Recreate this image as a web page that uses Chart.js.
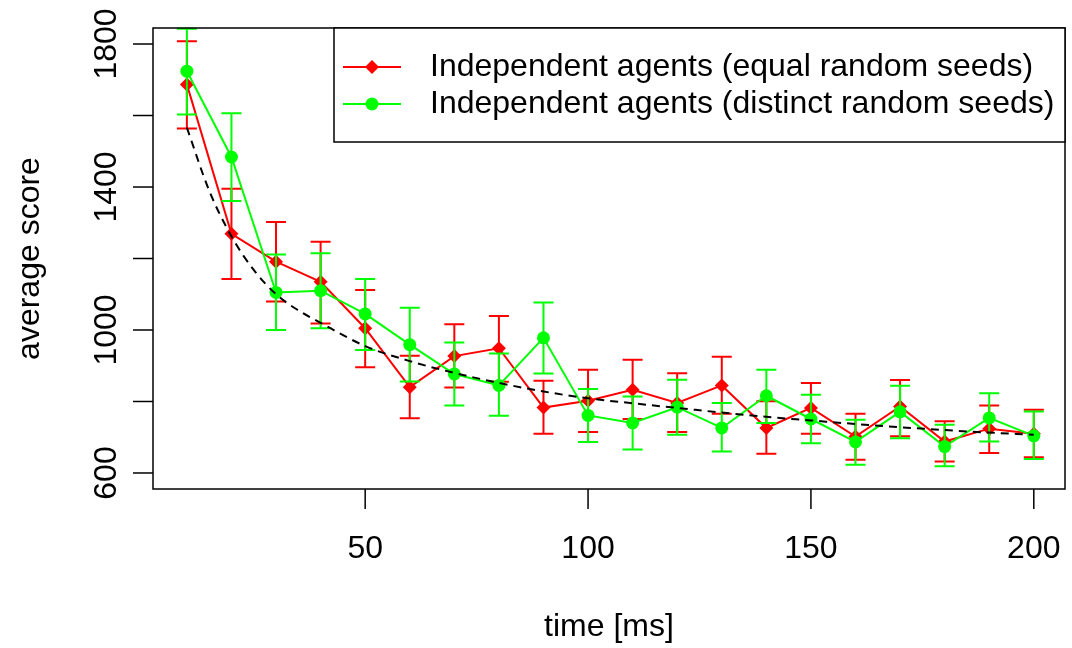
<!DOCTYPE html>
<html lang="en">
<head>
<meta charset="UTF-8">
<title>Average score over time</title>
<script src="https://cdn.jsdelivr.net/npm/chart.js@4.4.0/dist/chart.umd.min.js"></script>
<style>
    html, body { margin: 0; padding: 0; background: #fff; }
    .wrap { width: 1072px; height: 648px; }
</style>
</head>
<body>
<div class="wrap"><canvas id="chart" width="1072" height="648"></canvas></div>
<script>
// time points (ms)
var times = [10, 20, 30, 40, 50, 60, 70, 80, 90, 100, 110, 120, 130, 140, 150, 160, 170, 180, 190, 200];

// equal random seeds (red)
var equalMean = [1687, 1269, 1191, 1135, 1005, 840, 927, 949, 783, 802, 833, 796, 845, 726, 782, 702, 786, 688, 724, 710];
var equalHigh = [1808, 1395, 1302, 1247, 1112, 928, 1016, 1039, 858, 889, 917, 879, 925, 801, 852, 766, 860, 745, 789, 777];
var equalLow  = [1564, 1143, 1080, 1018, 896, 753, 839, 855, 710, 715, 751, 715, 766, 654, 710, 637, 703, 632, 656, 644];

// distinct random seeds (green)
var distinctMean = [1724, 1484, 1105, 1110, 1045, 959, 877, 845, 978, 761, 740, 784, 726, 816, 751, 687, 771, 674, 754, 704];
var distinctHigh = [1843, 1606, 1211, 1215, 1143, 1062, 965, 934, 1077, 835, 814, 861, 796, 889, 819, 749, 844, 735, 823, 772];
var distinctLow  = [1603, 1361, 1000, 1005, 944, 856, 789, 760, 878, 687, 666, 707, 660, 740, 683, 623, 697, 619, 688, 639];

// dashed fitted curve
var fitTimes = [10, 15, 20, 25, 30, 35, 40, 50, 60, 70, 80, 90, 100, 110, 120, 130, 140, 150, 160, 170, 180, 190, 200];
var fitScore = [1566, 1390, 1262, 1168, 1100, 1055, 1020, 955, 913, 880, 852, 828, 809, 795, 782, 769, 757, 747, 737, 728, 720, 713, 707];

var xTicks = [50, 100, 150, 200];
var yTicks = [600, 800, 1000, 1200, 1400, 1600, 1800];
var yTickLabels = ['600', '', '1000', '', '1400', '', '1800'];

var labelEqual = 'Independent agents (equal random seeds)';
var labelDistinct = 'Independent agents (distinct random seeds)';
var xTitle = 'time [ms]';
var yTitle = 'average score';

var FONT = '32px "Liberation Sans", Arial, Helvetica, sans-serif';

function pts(xs, ys) {
    return xs.map(function (x, i) { return { x: x, y: ys[i] }; });
}

// error bars drawn right after their own series
var errorBars = {
    id: 'errorBars',
    afterDatasetDraw: function (chart, args) {
        var ds = chart.data.datasets[args.index];
        if (!ds.low) return;
        var ctx = chart.ctx, xs = chart.scales.x, ys = chart.scales.y;
        ctx.save();
        ctx.strokeStyle = ds.borderColor;
        ctx.lineWidth = 2;
        ds.data.forEach(function (p, i) {
            var px = xs.getPixelForValue(p.x);
            var top = ys.getPixelForValue(ds.high[i]);
            var bot = ys.getPixelForValue(ds.low[i]);
            ctx.beginPath();
            ctx.moveTo(px, top); ctx.lineTo(px, bot);
            ctx.moveTo(px - 10, top); ctx.lineTo(px + 10, top);
            ctx.moveTo(px - 10, bot); ctx.lineTo(px + 10, bot);
            ctx.stroke();
        });
        ctx.restore();
    }
};

// R style box, axes, titles and legend
var frame = {
    id: 'frame',
    afterDraw: function (chart) {
        var ctx = chart.ctx, a = chart.chartArea;
        var xs = chart.scales.x, ys = chart.scales.y;
        ctx.save();
        ctx.strokeStyle = '#000';
        ctx.fillStyle = '#000';
        ctx.lineWidth = 1.5;
        ctx.strokeRect(a.left, a.top, a.right - a.left, a.bottom - a.top);

        ctx.font = FONT;
        ctx.textAlign = 'center';
        ctx.textBaseline = 'middle';

        // x axis
        xTicks.forEach(function (v) {
            var px = xs.getPixelForValue(v);
            ctx.beginPath();
            ctx.moveTo(px, a.bottom); ctx.lineTo(px, a.bottom + 20);
            ctx.stroke();
            ctx.fillText(String(v), px, 549);
        });
        ctx.fillText(xTitle, (a.left + a.right) / 2, 627);

        // y axis
        yTicks.forEach(function (v, i) {
            var py = ys.getPixelForValue(v);
            ctx.beginPath();
            ctx.moveTo(a.left, py); ctx.lineTo(a.left - 20, py);
            ctx.stroke();
            if (yTickLabels[i]) {
                ctx.save();
                ctx.translate(107, py);
                ctx.rotate(-Math.PI / 2);
                ctx.fillText(yTickLabels[i], 0, 0);
                ctx.restore();
            }
        });
        ctx.save();
        ctx.translate(30, (a.top + a.bottom) / 2);
        ctx.rotate(-Math.PI / 2);
        ctx.fillText(yTitle, 0, 0);
        ctx.restore();

        // legend
        var lx = 334, ly = a.top, lw = a.right - 334, lh = 114;
        ctx.fillStyle = '#fff';
        ctx.fillRect(lx, ly, lw, lh);
        ctx.strokeStyle = '#000';
        ctx.strokeRect(lx, ly, lw, lh);
        var entries = [chart.data.datasets[2], chart.data.datasets[1]];
        entries.forEach(function (ds, i) {
            var ry = 67 + i * 37;
            ctx.strokeStyle = ds.borderColor;
            ctx.lineWidth = 2;
            ctx.beginPath();
            ctx.moveTo(343, ry); ctx.lineTo(401, ry);
            ctx.stroke();
            ctx.fillStyle = ds.borderColor;
            ctx.beginPath();
            if (ds.pointStyle === 'rectRot') {
                var r = ds.pointRadius;
                ctx.moveTo(372 - r, ry); ctx.lineTo(372, ry - r);
                ctx.lineTo(372 + r, ry); ctx.lineTo(372, ry + r);
                ctx.closePath();
            } else {
                ctx.arc(372, ry, ds.pointRadius, 0, Math.PI * 2);
            }
            ctx.fill();
            ctx.fillStyle = '#000';
            ctx.textAlign = 'left';
            ctx.fillText(ds.label, 430, ry);
        });
        ctx.restore();
    }
};

new Chart(document.getElementById('chart'), {
    type: 'line',
    data: {
        datasets: [
            {
                label: 'fit',
                data: pts(fitTimes, fitScore),
                borderColor: '#000',
                borderWidth: 2,
                borderDash: [8, 6],
                pointRadius: 0,
                cubicInterpolationMode: 'monotone',
                fill: false
            },
            {
                label: labelDistinct,
                data: pts(times, distinctMean),
                low: distinctLow,
                high: distinctHigh,
                borderColor: '#00ff00',
                backgroundColor: '#00ff00',
                borderWidth: 2,
                pointStyle: 'circle',
                pointRadius: 6.5,
                pointBorderWidth: 0,
                fill: false
            },
            {
                label: labelEqual,
                data: pts(times, equalMean),
                low: equalLow,
                high: equalHigh,
                borderColor: '#ff0000',
                backgroundColor: '#ff0000',
                borderWidth: 2,
                pointStyle: 'rectRot',
                pointRadius: 7,
                pointBorderWidth: 0,
                fill: false
            }
        ]
    },
    options: {
        responsive: false,
        animation: false,
        devicePixelRatio: 1,
        layout: { padding: { left: 153, top: 28, right: 6, bottom: 159 } },
        plugins: { legend: { display: false }, tooltip: { enabled: false } },
        scales: {
            x: { type: 'linear', min: 2.4, max: 207.0, display: false },
            y: { type: 'linear', min: 555.2, max: 1844.8, display: false }
        }
    },
    plugins: [errorBars, frame]
});
</script>
</body>
</html>
